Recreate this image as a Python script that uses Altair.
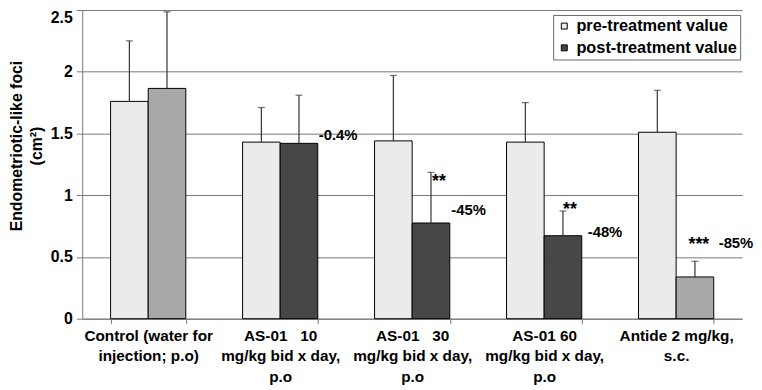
import altair as alt
import pandas as pd

# ---- data ----
groups = [
    "Control (water for|injection; p.o)",
    "AS-01\u00a0\u00a0 10|mg/kg bid x day,|p.o",
    "AS-01\u00a0\u00a0 30|mg/kg bid x day,|p.o",
    "AS-01 60|mg/kg bid x day,|p.o",
    "Antide 2 mg/kg,|s.c.",
]
series_names = ["pre-treatment value", "post-treatment value"]
pre_values = [1.76, 1.43, 1.44, 1.43, 1.51]
pre_err = [0.49, 0.28, 0.53, 0.32, 0.34]
post_values = [1.865, 1.42, 0.775, 0.672, 0.338]
post_err = [0.62, 0.39, 0.41, 0.20, 0.127]
post_pattern = ["hatch", "dots", "dots", "dots", "hatch"]
change_labels = ["", "-0.4%", "-45%", "-48%", "-85%"]
sig_labels = ["", "", "**", "**", "***"]
y_ticks = [0, 0.5, 1, 1.5, 2, 2.5]

# ---- build table ----
rows = []
for i, g in enumerate(groups):
    rows.append(dict(group=g, series=series_names[0], value=pre_values[i], err=pre_err[i],
                     pattern="stipple", change="", sig=""))
    rows.append(dict(group=g, series=series_names[1], value=post_values[i], err=post_err[i],
                     pattern=post_pattern[i], change=change_labels[i], sig=sig_labels[i]))
df = pd.DataFrame(rows)

FONT = "Liberation Sans"
PRE_FILL = "#ebebeb"
HATCH_FILL = "#a8a8a8"
DOT_FILL = "#474747"

x_enc = alt.X("group:N", sort=groups,
              scale=alt.Scale(paddingInner=0.43, paddingOuter=0.215),
              axis=alt.Axis(title=None, labelExpr="split(datum.label, '|')",
                            labelAngle=0, labelFont=FONT, labelFontSize=15.5,
                            labelFontWeight="bold", labelColor="black",
                            labelLineHeight=20.5, labelPadding=5,
                            tickBand="extent", tickSize=5, tickColor="#777",
                            domainColor="#777", grid=False))
xo_enc = alt.XOffset("series:N", sort=series_names,
                     scale=alt.Scale(domain=series_names, paddingInner=0, paddingOuter=0))

y_scale = alt.Scale(domain=[0, 2.5], nice=False)

base = alt.Chart(df).transform_calculate(top="datum.value + datum.err")

bars = base.mark_bar(stroke="black", strokeWidth=1).encode(
    x=x_enc,
    xOffset=xo_enc,
    y=alt.Y("value:Q", scale=y_scale,
            axis=alt.Axis(title=["Endometriotic-like foci", "(cm²)"],
                          values=y_ticks, format="~g",
                          labelFont=FONT, labelFontSize=16, labelFontWeight="bold",
                          labelColor="black", tickSize=6, tickColor="#777",
                          domainColor="#777", gridColor="#777", gridWidth=1,
                          labelPadding=4,
                          labelBaseline={"condition": {"test": "datum.value == 2.5",
                                                       "value": "top"},
                                         "value": "middle"},
                          titleFont=FONT, titleFontSize=16, titleFontWeight="bold",
                          titleColor="black", titleLineHeight=20,
                          titleX=-66, titleY=137, titleAlign="center",
                          titleBaseline="middle", titleAngle=270)),
    fill=alt.condition(
        "datum.pattern == 'hatch'",
        alt.value(HATCH_FILL),
        alt.Color("series:N", sort=series_names,
                  scale=alt.Scale(domain=series_names, range=[PRE_FILL, DOT_FILL]),
                  legend=alt.Legend(title=None, orient="none", legendX=476, legendY=5,
                                    fillColor="white", strokeColor="#666",
                                    padding=3, symbolType="square", symbolSize=36,
                                    symbolStrokeColor="black", symbolStrokeWidth=1,
                                    labelFont=FONT, labelFontSize=16.5,
                                    labelFontWeight="bold", labelColor="black",
                                    labelLimit=400,
                                    rowPadding=5, labelOffset=4)),
    ),
)

err_rule = base.mark_rule(color="#333", strokeWidth=1.2).encode(
    x=alt.X("group:N", sort=groups), xOffset=xo_enc,
    y=alt.Y("value:Q", scale=y_scale), y2="top:Q",
)
err_cap = base.mark_tick(color="#333", size=7, thickness=1.2, orient="horizontal").encode(
    x=alt.X("group:N", sort=groups), xOffset=xo_enc,
    y=alt.Y("top:Q", scale=y_scale),
)

layers = [bars, err_rule, err_cap]

# percent-change labels (placement offsets are styling)
pct_offsets = {1: (20, -8), 2: (20.5, -13), 3: (25, -4), 4: (24, -34)}
for i, (dx, dy) in pct_offsets.items():
    layers.append(
        base.transform_filter(
            alt.FieldEqualPredicate(field="change", equal=change_labels[i])
        ).mark_text(align="left", baseline="middle", dx=dx, dy=dy, font=FONT,
                    fontSize=15, fontWeight="bold", color="black").encode(
            x=alt.X("group:N", sort=groups), xOffset=xo_enc,
            y=alt.Y("value:Q", scale=y_scale), text="change:N")
    )

# significance asterisks
sig_offsets = {2: ("left", 1, 15), 3: ("left", 0, 4), 4: ("center", 4, -11)}
for i, (al, dx, dy) in sig_offsets.items():
    layers.append(
        base.transform_filter(
            f"datum.group == '{groups[i]}' && datum.sig != ''"
        ).mark_text(align=al, baseline="alphabetic", dx=dx, dy=dy, font=FONT,
                    fontSize=18, fontWeight="bold", color="black").encode(
            x=alt.X("group:N", sort=groups), xOffset=xo_enc,
            y=alt.Y("top:Q", scale=y_scale), text="sig:N")
    )

chart = alt.layer(*layers).properties(
    width=667, height=312,
    autosize=alt.AutoSizeParams(type="none"),
    padding={"left": 75, "top": 0, "right": 12, "bottom": 66},
    background="white",
).configure_view(stroke=None)

chart.save("out.html", embed_options={"renderer": "svg", "actions": False})
